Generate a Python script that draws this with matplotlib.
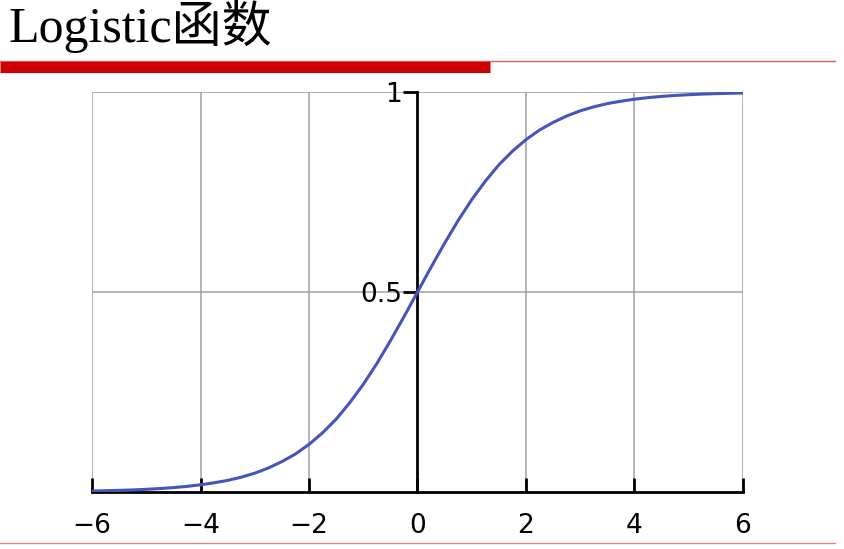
import matplotlib
matplotlib.use("Agg")
import matplotlib.pyplot as plt
from matplotlib.lines import Line2D

title = "Logistic函数"
x_vals = [-6, -5.75, -5.5, -5.25, -5, -4.75, -4.5, -4.25, -4, -3.75, -3.5, -3.25,
          -3, -2.75, -2.5, -2.25, -2, -1.75, -1.5, -1.25, -1, -0.75, -0.5, -0.25,
          0, 0.25, 0.5, 0.75, 1, 1.25, 1.5, 1.75, 2, 2.25, 2.5, 2.75, 3, 3.25,
          3.5, 3.75, 4, 4.25, 4.5, 4.75, 5, 5.25, 5.5, 5.75, 6]
y_vals = [0.0025, 0.0032, 0.0041, 0.0052, 0.0067, 0.0086, 0.011, 0.014, 0.018,
          0.023, 0.029, 0.037, 0.047, 0.060, 0.076, 0.095, 0.119, 0.148, 0.182,
          0.223, 0.269, 0.321, 0.378, 0.438, 0.5, 0.562, 0.622, 0.679, 0.731,
          0.777, 0.818, 0.852, 0.881, 0.905, 0.924, 0.940, 0.953, 0.963, 0.971,
          0.977, 0.982, 0.986, 0.989, 0.9914, 0.9933, 0.9948, 0.9959, 0.9968,
          0.9975]
x_ticks = [-6, -4, -2, 0, 2, 4, 6]
x_tick_labels = ["−6", "−4", "−2", "0", "2", "4", "6"]
y_ticks = [0.5, 1]
y_tick_labels = ["0.5", "1"]

fig = plt.figure(figsize=(8.45, 5.49), dpi=100)
fig.patch.set_facecolor("white")

# Title and decorative lines
fig.text(8/845, 1 - 42/549, title, fontsize=36,
         family=["Liberation Serif", "Noto Sans CJK SC"], va="baseline", ha="left")
fig.add_artist(Line2D([0, 835/845], [1 - 61/549, 1 - 61/549], color="#e06060", lw=1.0,
                      transform=fig.transFigure))
fig.add_artist(Line2D([0, 490/845], [1 - 66.5/549, 1 - 66.5/549], color="#cc0000", lw=8,
                      solid_capstyle="butt", transform=fig.transFigure))
fig.add_artist(Line2D([0, 835/845], [1 - 543/549, 1 - 543/549], color="#e88080", lw=1.0,
                      transform=fig.transFigure))

ax = fig.add_axes([92/845, 1 - 492/549, (743 - 92)/845, 400/549])
ax.set_xlim(-6, 6)
ax.set_ylim(0, 1)
ax.set_facecolor("none")

# grid
for xv in x_ticks:
    if xv != 0:
        ax.axvline(xv, color="#a0a0a0", lw=1.1, zorder=1)
for yv in y_ticks:
    ax.axhline(yv, color="#a0a0a0", lw=1.1, zorder=1)

ax.plot(x_vals, y_vals, color="#4455bb", lw=2.2, zorder=3, solid_capstyle="round")

for s in ["top", "right"]:
    ax.spines[s].set_visible(False)
ax.spines["left"].set_position(("data", 0))
ax.spines["left"].set_linewidth(2)
ax.spines["bottom"].set_linewidth(2)
ax.spines["left"].set_zorder(2)

ax.set_xticks(x_ticks)
ax.set_xticklabels(x_tick_labels)
ax.set_yticks(y_ticks)
ax.set_yticklabels(y_tick_labels)
ax.tick_params(axis="x", direction="in", length=10, width=2, labelsize=19, pad=15)
ax.tick_params(axis="y", direction="out", length=10, width=2, labelsize=19, pad=1)

fig.savefig("out.png", dpi=100)
